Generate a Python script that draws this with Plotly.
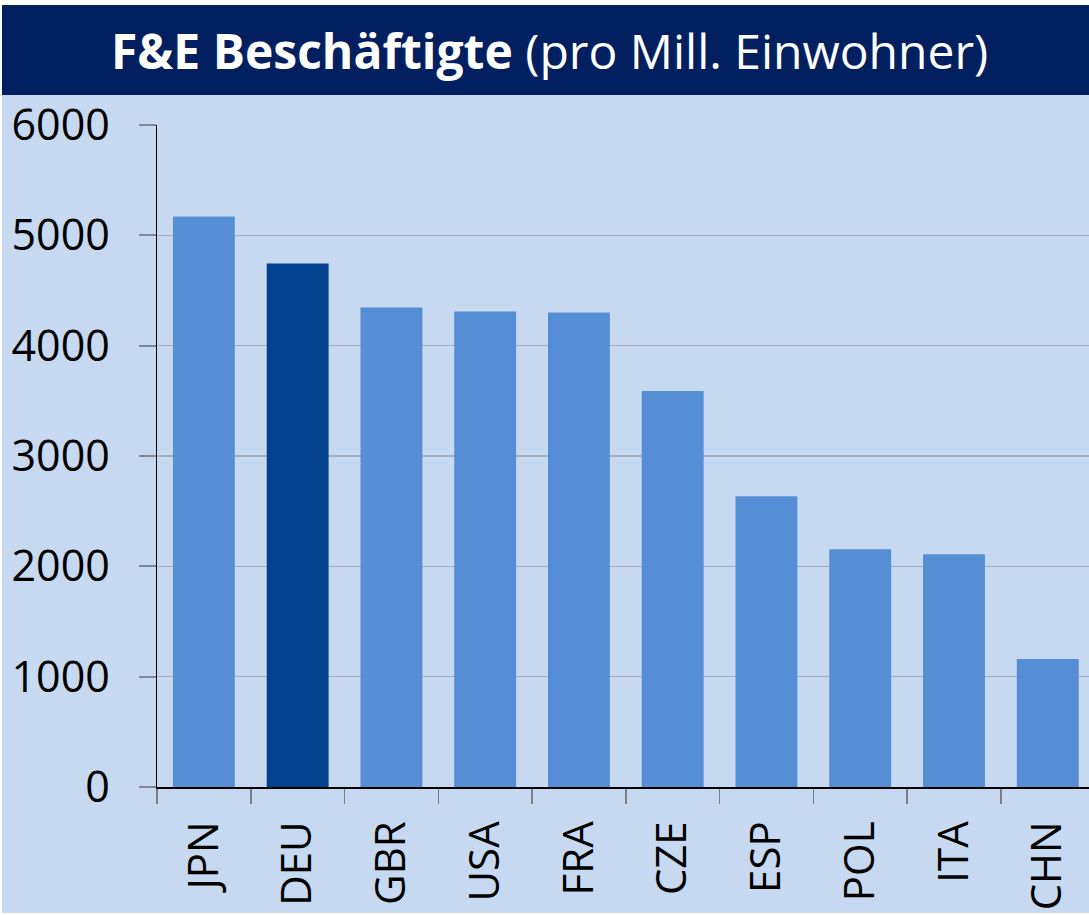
import plotly.graph_objects as go

categories = ["JPN", "DEU", "GBR", "USA", "FRA", "CZE", "ESP", "POL", "ITA", "CHN"]
values = [5170, 4745, 4345, 4310, 4300, 3590, 2635, 2155, 2110, 1160]
highlight = "DEU"

W, H = 1089, 915
L, R, T, B = 157, 0, 125, 128
pw = W - L - R
ph = H - T - B

def px(x):
    return (x - L) / pw

def py(y):
    return (H - B - y) / ph

light = "#558ED5"
dark = "#03428F"
bg = "#C6D9F0"
navy = "#02205F"

colors = [dark if c == highlight else light for c in categories]

fig = go.Figure(go.Bar(
    x=categories, y=values, marker_color=colors,
    marker_line_width=0, width=0.66,
))

font_family = "Open Sans"

fig.update_layout(
    width=W, height=H,
    margin=dict(l=L, r=R, t=T, b=B),
    paper_bgcolor=bg, plot_bgcolor=bg,
    showlegend=False,
    font=dict(family=font_family, color="#000000"),
    xaxis=dict(
        range=[-0.5, 9.44], showgrid=False,
        showline=True, linecolor="#000000", linewidth=1.5,
        ticks="outside", tickson="boundaries", ticklen=15, tickcolor="#7f7f7f", tickwidth=1.5,
        tickangle=-90, tickfont=dict(size=42, family=font_family), ticklabelstandoff=16,
    ),
    yaxis=dict(
        range=[0, 6000], tickvals=[0, 1000, 2000, 3000, 4000, 5000, 6000],
        showgrid=True, gridcolor="#A3AFC0", gridwidth=1.5,
        showline=True, linecolor="#000000", linewidth=1.5,
        ticks="outside", ticklen=17, tickcolor="#7f8796", tickwidth=2,
        tickfont=dict(size=43, family=font_family), ticklabelstandoff=20,
        zeroline=False,
    ),
    shapes=[
        dict(type="rect", xref="paper", yref="paper", x0=px(2), x1=px(W), y0=py(95), y1=py(5),
             fillcolor=navy, line_width=0, layer="above"),
        dict(type="rect", xref="paper", yref="paper", x0=px(0), x1=px(W), y0=py(5), y1=py(0),
             fillcolor="white", line_width=0, layer="above"),
        dict(type="rect", xref="paper", yref="paper", x0=px(0), x1=px(2), y0=py(H), y1=py(0),
             fillcolor="white", line_width=0, layer="above"),
        dict(type="rect", xref="paper", yref="paper", x0=px(0), x1=px(W), y0=py(H), y1=py(H - 2),
             fillcolor="white", line_width=0, layer="above"),
    ],
    annotations=[
        dict(xref="paper", yref="paper", x=px(549), y=py(50), xanchor="center", yanchor="middle",
             showarrow=False,
             text="<b>F&amp;E Beschäftigte</b> (pro Mill. Einwohner)",
             font=dict(size=48, color="white", family=font_family)),
    ],
)

fig.write_html(
    "out.html",
    config={"displayModeBar": False, "staticPlot": True},
    post_script="document.body.style.margin='0';document.body.style.overflow='hidden';",
)
